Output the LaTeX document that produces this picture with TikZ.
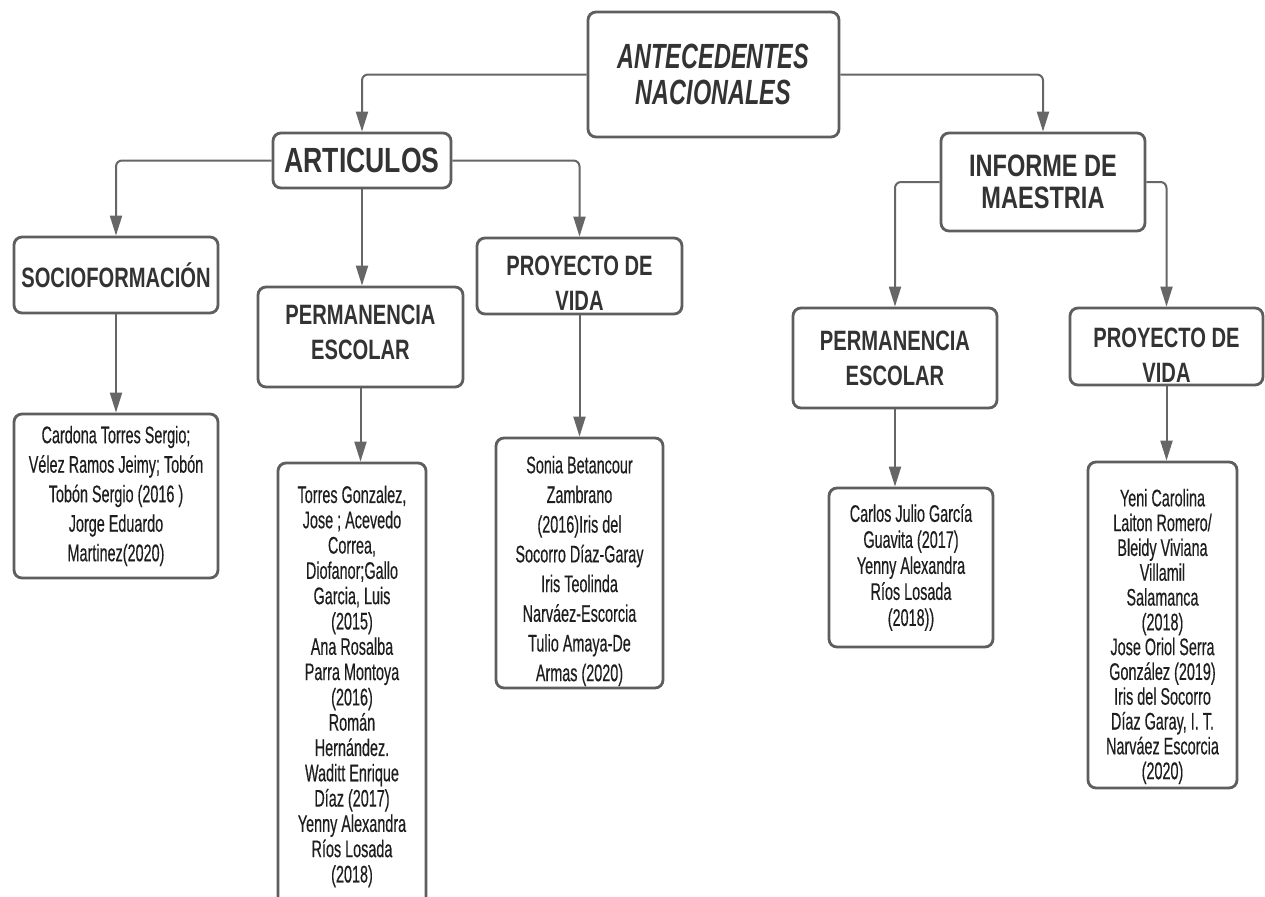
\documentclass[tikz,border=0pt]{standalone}
\usepackage{fontspec}
\setmainfont{Liberation Sans}
\newfontfamily\leaffont[FakeStretch=0.6,FakeBold=0.35]{Liberation Sans}
\newfontfamily\headfont[FakeStretch=0.72]{Liberation Sans}
\newfontfamily\comicfont[FakeStretch=0.76]{Liberation Sans}
\newfontfamily\rootfont[FakeStretch=0.67]{Liberation Sans}
\usetikzlibrary{arrows.meta}
\definecolor{boxgray}{HTML}{5E5E5E}
\definecolor{linegray}{HTML}{666666}
\definecolor{inkgray}{HTML}{333333}
\definecolor{leafink}{HTML}{1E1E1E}
\begin{document}
\begin{tikzpicture}[x=0.5pt,y=-0.5pt,
  box/.style={draw=boxgray,line width=1.4pt,rounded corners=4pt,fill=white,align=center,inner sep=0pt},
  comicbox/.style={box,text=inkgray,font=\comicfont\bfseries\fontsize{#1}{16}\selectfont},
  topicbox/.style={box,text=inkgray,font=\headfont\bfseries\fontsize{14}{17.5}\selectfont},
  topictext/.style={text=inkgray,align=center,inner sep=0pt,font=\headfont\bfseries\fontsize{14}{17.5}\selectfont},
  leafbox/.style={box,text=leafink,font=\leaffont\fontsize{12}{#1}\selectfont},
  leaftext/.style={text=leafink,align=center,inner sep=0pt,font=\leaffont\fontsize{12}{#1}\selectfont},
  link/.style={draw=linegray,line width=1pt,rounded corners=3pt,-{Triangle[width=6pt,length=10pt]}}]
\useasboundingbox (0,0) rectangle (1265,896);
\node[box,text=inkgray,font=\rootfont\bfseries\itshape\fontsize{17.5}{18}\selectfont,minimum width=125.5pt,minimum height=62.5pt] (root) at (713.5,74.5) {ANTECEDENTES\\NACIONALES};
\node[comicbox=17.5,minimum width=89pt,minimum height=27.5pt] (art) at (362,160.5) {ARTICULOS};
\node[comicbox=15.5,minimum width=102pt,minimum height=49pt] (inf) at (1043,182) {INFORME DE\\MAESTRIA};
\node[topicbox,minimum width=102pt,minimum height=38pt] (soc) at (116,275) {SOCIOFORMACIÓN};
\node[topicbox,minimum width=102.5pt,minimum height=50pt] (permA) at (360.5,337) {};
\node[topictext] (permAtext) at ([yshift=2.25pt]permA.center) {PERMANENCIA\\ESCOLAR};
\node[topicbox,minimum width=102.5pt,minimum height=38pt] (proyA) at (579.5,276) {};
\node[topictext] (proyAtext) at ([yshift=-3.75pt]proyA.center) {PROYECTO DE\\VIDA};
\node[topicbox,minimum width=102pt,minimum height=50pt] (permB) at (895,358) {PERMANENCIA\\ESCOLAR};
\node[topicbox,minimum width=96.5pt,minimum height=38.5pt] (proyB) at (1166.5,346.5) {};
\node[topictext] (proyBtext) at ([yshift=-4.25pt]proyB.center) {PROYECTO DE\\VIDA};
\node[leafbox=14.75,minimum width=102pt,minimum height=82pt] (leafA) at (116,496) {Cardona Torres Sergio;\\Vélez Ramos Jeimy; Tobón\\Tobón Sergio (2016 )\\Jorge Eduardo\\Martinez(2020)};
\node[leafbox=12.65,minimum width=74pt,minimum height=223.5pt] (leafB) at (352,686.5) {Torres Gonzalez,\\Jose ; Acevedo\\Correa,\\Diofanor;Gallo\\Garcia, Luis\\(2015)\\Ana Rosalba\\Parra Montoya\\(2016)\\Román\\Hernández.\\Waditt Enrique\\Díaz (2017)\\Yenny Alexandra\\Ríos Losada\\(2018)};
\node[leafbox=14.85,minimum width=83.5pt,minimum height=125pt] (leafC) at (579.5,563) {};
\node[leaftext=14.85] (leafCtext) at ([yshift=-4pt]leafC.center) {Sonia Betancour\\Zambrano\\(2016)Iris del\\Socorro Díaz-Garay\\Iris Teolinda\\Narváez-Escorcia\\Tulio Amaya-De\\Armas (2020)};
\node[leafbox=13,minimum width=82pt,minimum height=79.5pt] (leafD) at (911,567.5) {Carlos Julio García\\Guavita (2017)\\Yenny Alexandra\\Ríos Losada\\(2018))};
\node[leafbox=12.4,minimum width=74.5pt,minimum height=163pt] (leafE) at (1162.5,625) {};
\node[leaftext=12.4] (leafEtext) at ([yshift=-5.75pt]leafE.center) {Yeni Carolina\\Laiton Romero/\\Bleidy Viviana\\Villamil\\Salamanca\\(2018)\\Jose Oriol Serra\\González (2019)\\Iris del Socorro\\Díaz Garay, I. T.\\Narváez Escorcia\\(2020)};
\draw[link] (root.west) -| (art.north);
\draw[link] (root.east) -| (inf.north);
\draw[link] (art.west) -| (soc.north);
\draw[link] (art.east) -| (proyA.north);
\draw[link] (art.south) -- (art.south |- permA.north);
\draw[link] (inf.west) -| (permB.north);
\draw[link] (inf.east) -| (proyB.north);
\draw[link] (soc.south) -- (leafA.north);
\draw[link] (permA.south) -- (permA.south |- leafB.north);
\draw[link] (proyA.south) -- (leafC.north);
\draw[link] (permB.south) -- (permB.south |- leafD.north);
\draw[link] (proyB.south) -- (proyB.south |- leafE.north);
\end{tikzpicture}
\end{document}
